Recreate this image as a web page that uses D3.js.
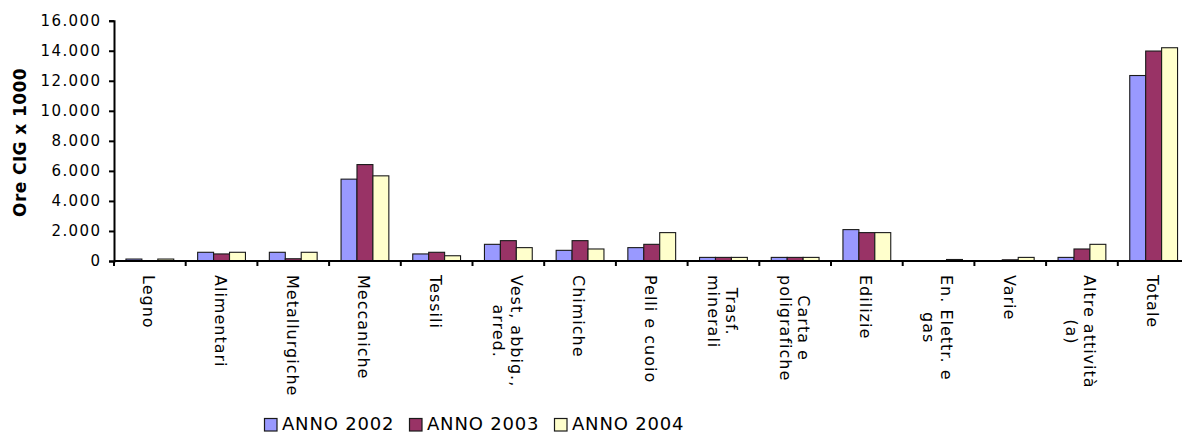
<!DOCTYPE html>
<html>
<head>
<meta charset="utf-8">
<script src="https://cdn.jsdelivr.net/npm/d3@7"></script>
<style>
  html, body { margin: 0; padding: 0; background: #fff; }
  svg { display: block; }
  text { font-family: "DejaVu Sans", Verdana, sans-serif; fill: #000; }
</style>
</head>
<body>
<svg id="chart" width="1182" height="433"></svg>
<script>
const categories = ["Legno","Alimentari","Metallurgiche","Meccaniche","Tessili","Vest, abbig., arred.","Chimiche","Pelli e cuoio","Trasf. minerali","Carta e poligrafiche","Edilizie","En. Elettr. e gas","Varie","Altre attività (a)","Totale"];
const categoryLines = [["Legno"],["Alimentari"],["Metallurgiche"],["Meccaniche"],["Tessili"],["Vest, abbig.,","arred."],["Chimiche"],["Pelli e cuoio"],["Trasf.","minerali"],["Carta e","poligrafiche"],["Edilizie"],["En. Elettr. e","gas"],["Varie"],["Altre attività","(a)"],["Totale"]];
const seriesNames = ["ANNO 2002","ANNO 2003","ANNO 2004"];
const anno2002 = [130, 580, 580, 5450, 470, 1110, 710, 890, 240, 240, 2090, 0, 0, 240, 12350];
const anno2003 = [0, 470, 150, 6420, 580, 1355, 1355, 1110, 240, 240, 1890, 0, 80, 800, 13980];
const anno2004 = [130, 580, 580, 5670, 350, 890, 800, 1890, 240, 240, 1890, 100, 240, 1110, 14200];
const yTicks = [0, 2000, 4000, 6000, 8000, 10000, 12000, 14000, 16000];
const colors = ["#9999FF", "#993366", "#FFFFCC"];
const yAxisTitle = "Ore CIG x 1000";

(function () {
const seriesValues = [anno2002, anno2003, anno2004];
const svg = d3.select("#chart");

const mLeft = 114, mTop = 20.7, mBottom = 261, step = 71.7;
const mRight = mLeft + step * categories.length;

const x = d3.scaleBand().domain(categories).range([mLeft, mRight]).padding(0);
const xInner = d3.scaleBand().domain(seriesNames).range([0, x.bandwidth()]).paddingInner(0).paddingOuter(0.75);
const y = d3.scaleLinear().domain([0, 16000]).range([mBottom, mTop]);

const itFmt = d3.formatLocale({decimal: ",", thousands: ".", grouping: [3], currency: ["€", ""]}).format(",d");

// bars
categories.forEach((c, ci) => {
  seriesNames.forEach((s, si) => {
    const v = seriesValues[si][ci];
    if (v <= 0) return;
    svg.append("rect")
      .attr("x", x(c) + xInner(s))
      .attr("y", y(v))
      .attr("width", xInner.bandwidth())
      .attr("height", y(0) - y(v))
      .attr("fill", colors[si])
      .attr("stroke", "#1a1a1a")
      .attr("stroke-width", 1.1);
  });
});

// y axis
const yAxis = d3.axisLeft(y).tickValues(yTicks).tickFormat(itFmt).tickSize(5).tickPadding(9);
const yg = svg.append("g").attr("transform", `translate(${mLeft},0)`).call(yAxis);
yg.select(".domain").attr("stroke", "#000").attr("stroke-width", 2);
yg.selectAll(".tick line").attr("stroke", "#000").attr("stroke-width", 2);
yg.selectAll(".tick text")
  .style("font-family", '"DejaVu Sans", Verdana, sans-serif')
  .style("font-size", "15px")
  .style("letter-spacing", "1.4px")
  .attr("dx", "1.4px")
  .attr("fill", "#000");

// x axis line and ticks at category boundaries
const boundaries = d3.range(categories.length + 1).map(i => mLeft + i * step);
svg.append("line").attr("x1", mLeft).attr("x2", mRight).attr("y1", y(0)).attr("y2", y(0))
  .attr("stroke", "#000").attr("stroke-width", 2);
svg.selectAll(".xtick").data(boundaries).enter().append("line")
  .attr("x1", d => d).attr("x2", d => d).attr("y1", y(0)).attr("y2", y(0) + 5)
  .attr("stroke", "#000").attr("stroke-width", 2);

// x labels, rotated 90deg, block top-aligned, lines centered
const lh = 18;
categories.forEach((c, ci) => {
  const lines = categoryLines[ci];
  const cx = x(c) + x.bandwidth() / 2 - 1;
  const g = svg.append("g").attr("transform", `translate(${cx},275) rotate(90)`);
  const texts = lines.map((ln, li) => g.append("text")
    .text(ln)
    .style("font-size", "16px")
    .style("letter-spacing", "1px")
    .attr("text-anchor", "middle")
    .attr("y", (li - (lines.length - 1) / 2) * lh)
    .attr("dy", "0.35em"));
  const maxLen = d3.max(texts, t => t.node().getComputedTextLength());
  texts.forEach(t => t.attr("x", maxLen / 2));
});

// y axis title
svg.append("text")
  .attr("transform", `translate(20,142.5) rotate(-90)`)
  .attr("text-anchor", "middle")
  .attr("dy", "0.35em")
  .style("font-size", "17px")
  .style("font-weight", "bold")
  .style("letter-spacing", "0.4px")
  .text(yAxisTitle);

// legend
const legendX = [263, 408, 553];
seriesNames.forEach((s, si) => {
  svg.append("rect").attr("x", legendX[si] + 1.5).attr("y", 418.5).attr("width", 12.5).attr("height", 12.5)
    .attr("fill", colors[si]).attr("stroke", "#1a1a1a").attr("stroke-width", 1.2);
  svg.append("text").attr("x", legendX[si] + 19).attr("y", 429.5)
    .style("font-size", "18px").style("letter-spacing", "0.8px").text(s);
});
})();
</script>
</body>
</html>
